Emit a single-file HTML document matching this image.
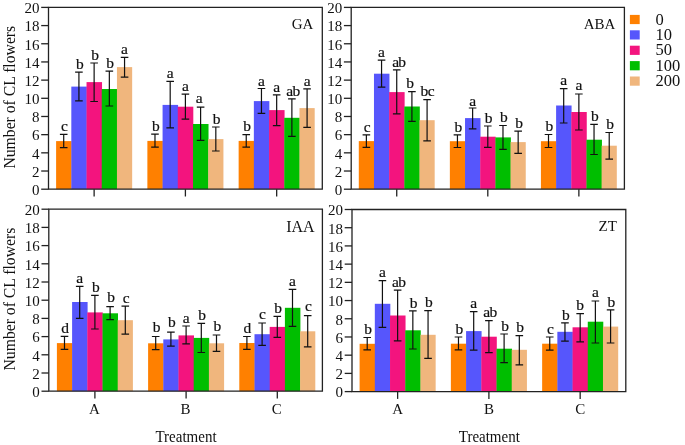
<!DOCTYPE html>
<html><head><meta charset="utf-8"><style>
html,body{margin:0;padding:0;background:#fff;}
body{width:685px;height:445px;overflow:hidden;}
svg{display:block;will-change:transform;font-family:"Liberation Serif", serif;fill:#111;}
svg text{fill:#111;}
svg text.l{stroke:#111;stroke-width:0.2px;}
svg text.t{letter-spacing:-0.7px;}
</style></head><body>
<svg width="685" height="445" viewBox="0 0 685 445">
<rect width="685" height="445" fill="#fff"/>
<rect x="56.11" y="141.1" width="15.51" height="48.1" fill="#FF8000"/>
<rect x="71.32" y="86.6" width="15.51" height="102.6" fill="#5656FC"/>
<rect x="86.53" y="82.1" width="15.51" height="107.1" fill="#F3147E"/>
<rect x="101.74" y="89" width="15.51" height="100.2" fill="#00BE00"/>
<rect x="116.95" y="67.1" width="15.21" height="122.1" fill="#F0B67D"/>
<rect x="147.37" y="140.9" width="15.51" height="48.3" fill="#FF8000"/>
<rect x="162.58" y="104.9" width="15.51" height="84.3" fill="#5656FC"/>
<rect x="177.79" y="106.7" width="15.51" height="82.5" fill="#F3147E"/>
<rect x="193.01" y="124" width="15.51" height="65.2" fill="#00BE00"/>
<rect x="208.22" y="139.1" width="15.21" height="50.1" fill="#F0B67D"/>
<rect x="238.64" y="140.9" width="15.51" height="48.3" fill="#FF8000"/>
<rect x="253.85" y="101.1" width="15.51" height="88.1" fill="#5656FC"/>
<rect x="269.06" y="110.1" width="15.51" height="79.1" fill="#F3147E"/>
<rect x="284.27" y="117.8" width="15.51" height="71.4" fill="#00BE00"/>
<rect x="299.48" y="108.1" width="15.21" height="81.1" fill="#F0B67D"/>
<path d="M63.71 134.4V147.6M59.91 134.4H67.51M59.91 147.6H67.51" stroke="#111" stroke-width="1.2" fill="none"/>
<text x="64.51" y="131.2" text-anchor="middle" class="l" font-size="15.5">c</text>
<path d="M78.92 72.2V100.8M75.12 72.2H82.72M75.12 100.8H82.72" stroke="#111" stroke-width="1.2" fill="none"/>
<text x="79.82" y="69" text-anchor="middle" class="l" font-size="15.5">b</text>
<path d="M94.13 63V101.5M90.33 63H97.93M90.33 101.5H97.93" stroke="#111" stroke-width="1.2" fill="none"/>
<text x="95.03" y="59.8" text-anchor="middle" class="l" font-size="15.5">b</text>
<path d="M109.34 71.1V106M105.54 71.1H113.14M105.54 106H113.14" stroke="#111" stroke-width="1.2" fill="none"/>
<text x="110.24" y="67.9" text-anchor="middle" class="l" font-size="15.5">b</text>
<path d="M124.56 57.3V77.1M120.76 57.3H128.36M120.76 77.1H128.36" stroke="#111" stroke-width="1.2" fill="none"/>
<text x="124.56" y="53.6" text-anchor="middle" class="l" font-size="15.5">a</text>
<path d="M154.98 134.2V147.2M151.18 134.2H158.78M151.18 147.2H158.78" stroke="#111" stroke-width="1.2" fill="none"/>
<text x="155.88" y="131" text-anchor="middle" class="l" font-size="15.5">b</text>
<path d="M170.19 81.3V127.9M166.39 81.3H173.99M166.39 127.9H173.99" stroke="#111" stroke-width="1.2" fill="none"/>
<text x="170.19" y="77.6" text-anchor="middle" class="l" font-size="15.5">a</text>
<path d="M185.4 94.2V119.1M181.6 94.2H189.2M181.6 119.1H189.2" stroke="#111" stroke-width="1.2" fill="none"/>
<text x="185.4" y="90.5" text-anchor="middle" class="l" font-size="15.5">a</text>
<path d="M200.61 107.2V140.4M196.81 107.2H204.41M196.81 140.4H204.41" stroke="#111" stroke-width="1.2" fill="none"/>
<text x="199.31" y="102.5" text-anchor="middle" class="l" font-size="15.5">a</text>
<path d="M215.82 127V151M212.02 127H219.62M212.02 151H219.62" stroke="#111" stroke-width="1.2" fill="none"/>
<text x="216.72" y="123.8" text-anchor="middle" class="l" font-size="15.5">b</text>
<path d="M246.24 134.6V147.2M242.44 134.6H250.04M242.44 147.2H250.04" stroke="#111" stroke-width="1.2" fill="none"/>
<text x="247.14" y="131.4" text-anchor="middle" class="l" font-size="15.5">b</text>
<path d="M261.46 88.5V113.3M257.66 88.5H265.26M257.66 113.3H265.26" stroke="#111" stroke-width="1.2" fill="none"/>
<text x="261.46" y="86" text-anchor="middle" class="l" font-size="15.5">a</text>
<path d="M276.67 94.8V125.6M272.87 94.8H280.47M272.87 125.6H280.47" stroke="#111" stroke-width="1.2" fill="none"/>
<text x="276.67" y="92.3" text-anchor="middle" class="l" font-size="15.5">a</text>
<path d="M291.88 98.9V136.4M288.08 98.9H295.68M288.08 136.4H295.68" stroke="#111" stroke-width="1.2" fill="none"/>
<text x="292.83" y="96.3" text-anchor="middle" class="l t" font-size="15.5">ab</text>
<path d="M307.09 88.8V127.4M303.29 88.8H310.89M303.29 127.4H310.89" stroke="#111" stroke-width="1.2" fill="none"/>
<text x="307.09" y="86.1" text-anchor="middle" class="l" font-size="15.5">a</text>
<path d="M48.5 7.4H322.3V189.2H48.5Z" stroke="#222" stroke-width="1.3" fill="none"/>
<path d="M41.2 189.2H48.5" stroke="#222" stroke-width="1.3"/>
<text x="39.5" y="195" text-anchor="end" font-size="15">0</text>
<path d="M41.2 171.02H48.5" stroke="#222" stroke-width="1.3"/>
<text x="39.5" y="176.82" text-anchor="end" font-size="15">2</text>
<path d="M41.2 152.84H48.5" stroke="#222" stroke-width="1.3"/>
<text x="39.5" y="158.64" text-anchor="end" font-size="15">4</text>
<path d="M41.2 134.66H48.5" stroke="#222" stroke-width="1.3"/>
<text x="39.5" y="140.46" text-anchor="end" font-size="15">6</text>
<path d="M41.2 116.48H48.5" stroke="#222" stroke-width="1.3"/>
<text x="39.5" y="122.28" text-anchor="end" font-size="15">8</text>
<path d="M41.2 98.3H48.5" stroke="#222" stroke-width="1.3"/>
<text x="39.5" y="104.1" text-anchor="end" font-size="15">10</text>
<path d="M41.2 80.12H48.5" stroke="#222" stroke-width="1.3"/>
<text x="39.5" y="85.92" text-anchor="end" font-size="15">12</text>
<path d="M41.2 61.94H48.5" stroke="#222" stroke-width="1.3"/>
<text x="39.5" y="67.74" text-anchor="end" font-size="15">14</text>
<path d="M41.2 43.76H48.5" stroke="#222" stroke-width="1.3"/>
<text x="39.5" y="49.56" text-anchor="end" font-size="15">16</text>
<path d="M41.2 25.58H48.5" stroke="#222" stroke-width="1.3"/>
<text x="39.5" y="31.38" text-anchor="end" font-size="15">18</text>
<path d="M41.2 7.4H48.5" stroke="#222" stroke-width="1.3"/>
<text x="39.5" y="13.2" text-anchor="end" font-size="15">20</text>
<path d="M94.13 189.2V196.5" stroke="#222" stroke-width="1.3"/>
<path d="M185.4 189.2V196.5" stroke="#222" stroke-width="1.3"/>
<path d="M276.67 189.2V196.5" stroke="#222" stroke-width="1.3"/>
<text transform="translate(313.3 29.3) scale(1 1.03)" text-anchor="end" font-size="15">GA</text>
<text transform="translate(14.6 97.2) rotate(-90)" text-anchor="middle" font-size="15.7">Number of CL flowers</text>
<rect x="358.79" y="141.1" width="15.48" height="48.1" fill="#FF8000"/>
<rect x="373.97" y="73.7" width="15.48" height="115.5" fill="#5656FC"/>
<rect x="389.14" y="92.1" width="15.48" height="97.1" fill="#F3147E"/>
<rect x="404.32" y="106.5" width="15.48" height="82.7" fill="#00BE00"/>
<rect x="419.5" y="120.2" width="15.18" height="69" fill="#F0B67D"/>
<rect x="449.86" y="141.2" width="15.48" height="48" fill="#FF8000"/>
<rect x="465.03" y="118.1" width="15.48" height="71.1" fill="#5656FC"/>
<rect x="480.21" y="136.7" width="15.48" height="52.5" fill="#F3147E"/>
<rect x="495.39" y="137.4" width="15.48" height="51.8" fill="#00BE00"/>
<rect x="510.57" y="142.1" width="15.18" height="47.1" fill="#F0B67D"/>
<rect x="540.92" y="141.2" width="15.48" height="48" fill="#FF8000"/>
<rect x="556.1" y="105.5" width="15.48" height="83.7" fill="#5656FC"/>
<rect x="571.28" y="112" width="15.48" height="77.2" fill="#F3147E"/>
<rect x="586.46" y="139.7" width="15.48" height="49.5" fill="#00BE00"/>
<rect x="601.63" y="145.7" width="15.18" height="43.5" fill="#F0B67D"/>
<path d="M366.38 134.8V147.4M362.58 134.8H370.18M362.58 147.4H370.18" stroke="#111" stroke-width="1.2" fill="none"/>
<text x="367.18" y="131.6" text-anchor="middle" class="l" font-size="15.5">c</text>
<path d="M381.56 60.2V87.2M377.76 60.2H385.36M377.76 87.2H385.36" stroke="#111" stroke-width="1.2" fill="none"/>
<text x="381.56" y="57" text-anchor="middle" class="l" font-size="15.5">a</text>
<path d="M396.73 69.9V113.8M392.93 69.9H400.53M392.93 113.8H400.53" stroke="#111" stroke-width="1.2" fill="none"/>
<text x="398.78" y="67.3" text-anchor="middle" class="l t" font-size="15.5">ab</text>
<path d="M411.91 91.7V121.3M408.11 91.7H415.71M408.11 121.3H415.71" stroke="#111" stroke-width="1.2" fill="none"/>
<text x="410.11" y="87.9" text-anchor="middle" class="l" font-size="15.5">b</text>
<path d="M427.09 99.6V140.9M423.29 99.6H430.89M423.29 140.9H430.89" stroke="#111" stroke-width="1.2" fill="none"/>
<text x="427.24" y="96.4" text-anchor="middle" class="l t" font-size="15.5">bc</text>
<path d="M457.44 134.9V147.5M453.64 134.9H461.24M453.64 147.5H461.24" stroke="#111" stroke-width="1.2" fill="none"/>
<text x="458.34" y="131.7" text-anchor="middle" class="l" font-size="15.5">b</text>
<path d="M472.62 108V128.9M468.82 108H476.42M468.82 128.9H476.42" stroke="#111" stroke-width="1.2" fill="none"/>
<text x="472.62" y="105.5" text-anchor="middle" class="l" font-size="15.5">a</text>
<path d="M487.8 126V147.3M484 126H491.6M484 147.3H491.6" stroke="#111" stroke-width="1.2" fill="none"/>
<text x="488.7" y="122.8" text-anchor="middle" class="l" font-size="15.5">b</text>
<path d="M502.98 125.5V149.3M499.18 125.5H506.78M499.18 149.3H506.78" stroke="#111" stroke-width="1.2" fill="none"/>
<text x="503.88" y="122.3" text-anchor="middle" class="l" font-size="15.5">b</text>
<path d="M518.16 131.1V153.4M514.36 131.1H521.96M514.36 153.4H521.96" stroke="#111" stroke-width="1.2" fill="none"/>
<text x="519.06" y="127.9" text-anchor="middle" class="l" font-size="15.5">b</text>
<path d="M548.51 134.5V147.5M544.71 134.5H552.31M544.71 147.5H552.31" stroke="#111" stroke-width="1.2" fill="none"/>
<text x="549.41" y="131.3" text-anchor="middle" class="l" font-size="15.5">b</text>
<path d="M563.69 88.7V123M559.89 88.7H567.49M559.89 123H567.49" stroke="#111" stroke-width="1.2" fill="none"/>
<text x="563.69" y="85" text-anchor="middle" class="l" font-size="15.5">a</text>
<path d="M578.87 94V130M575.07 94H582.67M575.07 130H582.67" stroke="#111" stroke-width="1.2" fill="none"/>
<text x="578.87" y="90.3" text-anchor="middle" class="l" font-size="15.5">a</text>
<path d="M594.04 124.4V154.5M590.24 124.4H597.84M590.24 154.5H597.84" stroke="#111" stroke-width="1.2" fill="none"/>
<text x="594.94" y="121.2" text-anchor="middle" class="l" font-size="15.5">b</text>
<path d="M609.22 132.5V159.2M605.42 132.5H613.02M605.42 159.2H613.02" stroke="#111" stroke-width="1.2" fill="none"/>
<text x="610.12" y="129.3" text-anchor="middle" class="l" font-size="15.5">b</text>
<path d="M351.2 7.4H624.4V189.2H351.2Z" stroke="#222" stroke-width="1.3" fill="none"/>
<path d="M343.9 189.2H351.2" stroke="#222" stroke-width="1.3"/>
<text x="342.2" y="195" text-anchor="end" font-size="15">0</text>
<path d="M343.9 171.02H351.2" stroke="#222" stroke-width="1.3"/>
<text x="342.2" y="176.82" text-anchor="end" font-size="15">2</text>
<path d="M343.9 152.84H351.2" stroke="#222" stroke-width="1.3"/>
<text x="342.2" y="158.64" text-anchor="end" font-size="15">4</text>
<path d="M343.9 134.66H351.2" stroke="#222" stroke-width="1.3"/>
<text x="342.2" y="140.46" text-anchor="end" font-size="15">6</text>
<path d="M343.9 116.48H351.2" stroke="#222" stroke-width="1.3"/>
<text x="342.2" y="122.28" text-anchor="end" font-size="15">8</text>
<path d="M343.9 98.3H351.2" stroke="#222" stroke-width="1.3"/>
<text x="342.2" y="104.1" text-anchor="end" font-size="15">10</text>
<path d="M343.9 80.12H351.2" stroke="#222" stroke-width="1.3"/>
<text x="342.2" y="85.92" text-anchor="end" font-size="15">12</text>
<path d="M343.9 61.94H351.2" stroke="#222" stroke-width="1.3"/>
<text x="342.2" y="67.74" text-anchor="end" font-size="15">14</text>
<path d="M343.9 43.76H351.2" stroke="#222" stroke-width="1.3"/>
<text x="342.2" y="49.56" text-anchor="end" font-size="15">16</text>
<path d="M343.9 25.58H351.2" stroke="#222" stroke-width="1.3"/>
<text x="342.2" y="31.38" text-anchor="end" font-size="15">18</text>
<path d="M343.9 7.4H351.2" stroke="#222" stroke-width="1.3"/>
<text x="342.2" y="13.2" text-anchor="end" font-size="15">20</text>
<path d="M396.73 189.2V196.5" stroke="#222" stroke-width="1.3"/>
<path d="M487.8 189.2V196.5" stroke="#222" stroke-width="1.3"/>
<path d="M578.87 189.2V196.5" stroke="#222" stroke-width="1.3"/>
<text transform="translate(615.4 29.3) scale(1 1.03)" text-anchor="end" font-size="15">ABA</text>
<rect x="56.9" y="343.1" width="15.5" height="48.1" fill="#FF8000"/>
<rect x="72.1" y="302" width="15.5" height="89.2" fill="#5656FC"/>
<rect x="87.3" y="312.4" width="15.5" height="78.8" fill="#F3147E"/>
<rect x="102.5" y="313.3" width="15.5" height="77.9" fill="#00BE00"/>
<rect x="117.7" y="320.2" width="15.2" height="71" fill="#F0B67D"/>
<rect x="148.1" y="343.3" width="15.5" height="47.9" fill="#FF8000"/>
<rect x="163.3" y="339.4" width="15.5" height="51.8" fill="#5656FC"/>
<rect x="178.5" y="335.4" width="15.5" height="55.8" fill="#F3147E"/>
<rect x="193.7" y="337.9" width="15.5" height="53.3" fill="#00BE00"/>
<rect x="208.9" y="343.3" width="15.2" height="47.9" fill="#F0B67D"/>
<rect x="239.3" y="343" width="15.5" height="48.2" fill="#FF8000"/>
<rect x="254.5" y="334.2" width="15.5" height="57" fill="#5656FC"/>
<rect x="269.7" y="326.9" width="15.5" height="64.3" fill="#F3147E"/>
<rect x="284.9" y="307.8" width="15.5" height="83.4" fill="#00BE00"/>
<rect x="300.1" y="331.3" width="15.2" height="59.9" fill="#F0B67D"/>
<path d="M64.5 336.4V349.4M60.7 336.4H68.3M60.7 349.4H68.3" stroke="#111" stroke-width="1.2" fill="none"/>
<text x="65" y="333.2" text-anchor="middle" class="l" font-size="15.5">d</text>
<path d="M79.7 286.3V318.4M75.9 286.3H83.5M75.9 318.4H83.5" stroke="#111" stroke-width="1.2" fill="none"/>
<text x="79.7" y="282.6" text-anchor="middle" class="l" font-size="15.5">a</text>
<path d="M94.9 295.3V329M91.1 295.3H98.7M91.1 329H98.7" stroke="#111" stroke-width="1.2" fill="none"/>
<text x="95.8" y="292.1" text-anchor="middle" class="l" font-size="15.5">b</text>
<path d="M110.1 306.7V319.6M106.3 306.7H113.9M106.3 319.6H113.9" stroke="#111" stroke-width="1.2" fill="none"/>
<text x="111" y="301.7" text-anchor="middle" class="l" font-size="15.5">b</text>
<path d="M125.3 306.1V334.2M121.5 306.1H129.1M121.5 334.2H129.1" stroke="#111" stroke-width="1.2" fill="none"/>
<text x="126.1" y="302.9" text-anchor="middle" class="l" font-size="15.5">c</text>
<path d="M155.7 336.5V349.6M151.9 336.5H159.5M151.9 349.6H159.5" stroke="#111" stroke-width="1.2" fill="none"/>
<text x="156.6" y="332" text-anchor="middle" class="l" font-size="15.5">b</text>
<path d="M170.9 332.2V346.2M167.1 332.2H174.7M167.1 346.2H174.7" stroke="#111" stroke-width="1.2" fill="none"/>
<text x="171.8" y="327.4" text-anchor="middle" class="l" font-size="15.5">b</text>
<path d="M186.1 326V343.9M182.3 326H189.9M182.3 343.9H189.9" stroke="#111" stroke-width="1.2" fill="none"/>
<text x="186.1" y="322.7" text-anchor="middle" class="l" font-size="15.5">a</text>
<path d="M201.3 323.3V352.5M197.5 323.3H205.1M197.5 352.5H205.1" stroke="#111" stroke-width="1.2" fill="none"/>
<text x="202.2" y="319.7" text-anchor="middle" class="l" font-size="15.5">b</text>
<path d="M216.5 335V351.3M212.7 335H220.3M212.7 351.3H220.3" stroke="#111" stroke-width="1.2" fill="none"/>
<text x="217.4" y="331.2" text-anchor="middle" class="l" font-size="15.5">b</text>
<path d="M246.9 336.5V349.3M243.1 336.5H250.7M243.1 349.3H250.7" stroke="#111" stroke-width="1.2" fill="none"/>
<text x="247.4" y="333.3" text-anchor="middle" class="l" font-size="15.5">d</text>
<path d="M262.1 323V345.4M258.3 323H265.9M258.3 345.4H265.9" stroke="#111" stroke-width="1.2" fill="none"/>
<text x="262.5" y="318.5" text-anchor="middle" class="l" font-size="15.5">c</text>
<path d="M277.3 316.3V337.3M273.5 316.3H281.1M273.5 337.3H281.1" stroke="#111" stroke-width="1.2" fill="none"/>
<text x="278.2" y="313.1" text-anchor="middle" class="l" font-size="15.5">b</text>
<path d="M292.5 289.3V326.3M288.7 289.3H296.3M288.7 326.3H296.3" stroke="#111" stroke-width="1.2" fill="none"/>
<text x="292.5" y="285.6" text-anchor="middle" class="l" font-size="15.5">a</text>
<path d="M307.7 315.6V346.8M303.9 315.6H311.5M303.9 346.8H311.5" stroke="#111" stroke-width="1.2" fill="none"/>
<text x="308.5" y="311.4" text-anchor="middle" class="l" font-size="15.5">c</text>
<path d="M48.8 209.2H322.4V391.2H48.8Z" stroke="#222" stroke-width="1.3" fill="none"/>
<path d="M41.5 391.2H48.8" stroke="#222" stroke-width="1.3"/>
<text x="39.8" y="397" text-anchor="end" font-size="15">0</text>
<path d="M41.5 373H48.8" stroke="#222" stroke-width="1.3"/>
<text x="39.8" y="378.8" text-anchor="end" font-size="15">2</text>
<path d="M41.5 354.8H48.8" stroke="#222" stroke-width="1.3"/>
<text x="39.8" y="360.6" text-anchor="end" font-size="15">4</text>
<path d="M41.5 336.6H48.8" stroke="#222" stroke-width="1.3"/>
<text x="39.8" y="342.4" text-anchor="end" font-size="15">6</text>
<path d="M41.5 318.4H48.8" stroke="#222" stroke-width="1.3"/>
<text x="39.8" y="324.2" text-anchor="end" font-size="15">8</text>
<path d="M41.5 300.2H48.8" stroke="#222" stroke-width="1.3"/>
<text x="39.8" y="306" text-anchor="end" font-size="15">10</text>
<path d="M41.5 282H48.8" stroke="#222" stroke-width="1.3"/>
<text x="39.8" y="287.8" text-anchor="end" font-size="15">12</text>
<path d="M41.5 263.8H48.8" stroke="#222" stroke-width="1.3"/>
<text x="39.8" y="269.6" text-anchor="end" font-size="15">14</text>
<path d="M41.5 245.6H48.8" stroke="#222" stroke-width="1.3"/>
<text x="39.8" y="251.4" text-anchor="end" font-size="15">16</text>
<path d="M41.5 227.4H48.8" stroke="#222" stroke-width="1.3"/>
<text x="39.8" y="233.2" text-anchor="end" font-size="15">18</text>
<path d="M41.5 209.2H48.8" stroke="#222" stroke-width="1.3"/>
<text x="39.8" y="215" text-anchor="end" font-size="15">20</text>
<path d="M94.9 391.2V398.5" stroke="#222" stroke-width="1.3"/>
<path d="M186.1 391.2V398.5" stroke="#222" stroke-width="1.3"/>
<path d="M277.3 391.2V398.5" stroke="#222" stroke-width="1.3"/>
<text transform="translate(314.6 232) scale(1 1.03)" text-anchor="end" font-size="16">IAA</text>
<text transform="translate(14.6 299.1) rotate(-90)" text-anchor="middle" font-size="15.7">Number of CL flowers</text>
<rect x="359.61" y="343.8" width="15.51" height="47.8" fill="#FF8000"/>
<rect x="374.82" y="303.8" width="15.51" height="87.8" fill="#5656FC"/>
<rect x="390.03" y="315.5" width="15.51" height="76.1" fill="#F3147E"/>
<rect x="405.24" y="330.3" width="15.51" height="61.3" fill="#00BE00"/>
<rect x="420.45" y="334.8" width="15.21" height="56.8" fill="#F0B67D"/>
<rect x="450.87" y="343.7" width="15.51" height="47.9" fill="#FF8000"/>
<rect x="466.08" y="331.1" width="15.51" height="60.5" fill="#5656FC"/>
<rect x="481.29" y="336.7" width="15.51" height="54.9" fill="#F3147E"/>
<rect x="496.51" y="348.7" width="15.51" height="42.9" fill="#00BE00"/>
<rect x="511.72" y="349.8" width="15.21" height="41.8" fill="#F0B67D"/>
<rect x="542.14" y="343.7" width="15.51" height="47.9" fill="#FF8000"/>
<rect x="557.35" y="331.8" width="15.51" height="59.8" fill="#5656FC"/>
<rect x="572.56" y="327.3" width="15.51" height="64.3" fill="#F3147E"/>
<rect x="587.77" y="321.7" width="15.51" height="69.9" fill="#00BE00"/>
<rect x="602.98" y="326.6" width="15.21" height="65" fill="#F0B67D"/>
<path d="M367.21 337.5V349.9M363.41 337.5H371.01M363.41 349.9H371.01" stroke="#111" stroke-width="1.2" fill="none"/>
<text x="368.11" y="334.3" text-anchor="middle" class="l" font-size="15.5">b</text>
<path d="M382.42 280.6V327.4M378.62 280.6H386.22M378.62 327.4H386.22" stroke="#111" stroke-width="1.2" fill="none"/>
<text x="382.42" y="276.9" text-anchor="middle" class="l" font-size="15.5">a</text>
<path d="M397.63 290.2V340.9M393.83 290.2H401.43M393.83 340.9H401.43" stroke="#111" stroke-width="1.2" fill="none"/>
<text x="398.58" y="287" text-anchor="middle" class="l t" font-size="15.5">ab</text>
<path d="M412.84 310.8V349M409.04 310.8H416.64M409.04 349H416.64" stroke="#111" stroke-width="1.2" fill="none"/>
<text x="413.74" y="307.6" text-anchor="middle" class="l" font-size="15.5">b</text>
<path d="M428.06 310.6V358.4M424.26 310.6H431.86M424.26 358.4H431.86" stroke="#111" stroke-width="1.2" fill="none"/>
<text x="428.96" y="307.4" text-anchor="middle" class="l" font-size="15.5">b</text>
<path d="M458.48 337V349.8M454.68 337H462.28M454.68 349.8H462.28" stroke="#111" stroke-width="1.2" fill="none"/>
<text x="459.38" y="333.8" text-anchor="middle" class="l" font-size="15.5">b</text>
<path d="M473.69 311.6V350.2M469.89 311.6H477.49M469.89 350.2H477.49" stroke="#111" stroke-width="1.2" fill="none"/>
<text x="473.69" y="307.9" text-anchor="middle" class="l" font-size="15.5">a</text>
<path d="M488.9 320.6V352.7M485.1 320.6H492.7M485.1 352.7H492.7" stroke="#111" stroke-width="1.2" fill="none"/>
<text x="489.85" y="317.4" text-anchor="middle" class="l t" font-size="15.5">ab</text>
<path d="M504.11 334V362.6M500.31 334H507.91M500.31 362.6H507.91" stroke="#111" stroke-width="1.2" fill="none"/>
<text x="505.01" y="330.8" text-anchor="middle" class="l" font-size="15.5">b</text>
<path d="M519.32 335.6V364.8M515.52 335.6H523.12M515.52 364.8H523.12" stroke="#111" stroke-width="1.2" fill="none"/>
<text x="520.22" y="332.4" text-anchor="middle" class="l" font-size="15.5">b</text>
<path d="M549.74 337V350.2M545.94 337H553.54M545.94 350.2H553.54" stroke="#111" stroke-width="1.2" fill="none"/>
<text x="550.54" y="333.8" text-anchor="middle" class="l" font-size="15.5">c</text>
<path d="M564.96 322.8V341.2M561.16 322.8H568.76M561.16 341.2H568.76" stroke="#111" stroke-width="1.2" fill="none"/>
<text x="565.86" y="319.6" text-anchor="middle" class="l" font-size="15.5">b</text>
<path d="M580.17 313.6V341.9M576.37 313.6H583.97M576.37 341.9H583.97" stroke="#111" stroke-width="1.2" fill="none"/>
<text x="580.07" y="310.4" text-anchor="middle" class="l" font-size="15.5">b</text>
<path d="M595.38 301V343M591.58 301H599.18M591.58 343H599.18" stroke="#111" stroke-width="1.2" fill="none"/>
<text x="595.38" y="297.3" text-anchor="middle" class="l" font-size="15.5">a</text>
<path d="M610.59 309.8V343M606.79 309.8H614.39M606.79 343H614.39" stroke="#111" stroke-width="1.2" fill="none"/>
<text x="611.49" y="306.6" text-anchor="middle" class="l" font-size="15.5">b</text>
<path d="M352 209.5H625.8V391.6H352Z" stroke="#222" stroke-width="1.3" fill="none"/>
<path d="M344.7 391.6H352" stroke="#222" stroke-width="1.3"/>
<text x="343" y="397.4" text-anchor="end" font-size="15">0</text>
<path d="M344.7 373.39H352" stroke="#222" stroke-width="1.3"/>
<text x="343" y="379.19" text-anchor="end" font-size="15">2</text>
<path d="M344.7 355.18H352" stroke="#222" stroke-width="1.3"/>
<text x="343" y="360.98" text-anchor="end" font-size="15">4</text>
<path d="M344.7 336.97H352" stroke="#222" stroke-width="1.3"/>
<text x="343" y="342.77" text-anchor="end" font-size="15">6</text>
<path d="M344.7 318.76H352" stroke="#222" stroke-width="1.3"/>
<text x="343" y="324.56" text-anchor="end" font-size="15">8</text>
<path d="M344.7 300.55H352" stroke="#222" stroke-width="1.3"/>
<text x="343" y="306.35" text-anchor="end" font-size="15">10</text>
<path d="M344.7 282.34H352" stroke="#222" stroke-width="1.3"/>
<text x="343" y="288.14" text-anchor="end" font-size="15">12</text>
<path d="M344.7 264.13H352" stroke="#222" stroke-width="1.3"/>
<text x="343" y="269.93" text-anchor="end" font-size="15">14</text>
<path d="M344.7 245.92H352" stroke="#222" stroke-width="1.3"/>
<text x="343" y="251.72" text-anchor="end" font-size="15">16</text>
<path d="M344.7 227.71H352" stroke="#222" stroke-width="1.3"/>
<text x="343" y="233.51" text-anchor="end" font-size="15">18</text>
<path d="M344.7 209.5H352" stroke="#222" stroke-width="1.3"/>
<text x="343" y="215.3" text-anchor="end" font-size="15">20</text>
<path d="M397.63 391.6V398.9" stroke="#222" stroke-width="1.3"/>
<path d="M488.9 391.6V398.9" stroke="#222" stroke-width="1.3"/>
<path d="M580.17 391.6V398.9" stroke="#222" stroke-width="1.3"/>
<text transform="translate(616.8 231.4) scale(1 1.03)" text-anchor="end" font-size="15">ZT</text>
<text x="94.4" y="414" text-anchor="middle" font-size="15">A</text>
<text x="185.6" y="414" text-anchor="middle" font-size="15">B</text>
<text x="276.8" y="414" text-anchor="middle" font-size="15">C</text>
<text transform="translate(186 442.1) scale(1 1.08)" text-anchor="middle" font-size="15">Treatment</text>
<text x="397.63" y="414" text-anchor="middle" font-size="15">A</text>
<text x="488.9" y="414" text-anchor="middle" font-size="15">B</text>
<text x="580.17" y="414" text-anchor="middle" font-size="15">C</text>
<text transform="translate(489.3 442.1) scale(1 1.08)" text-anchor="middle" font-size="15">Treatment</text>
<rect x="629.9" y="14.9" width="9.8" height="9.2" fill="#FF8000"/>
<text x="655.4" y="24.5" font-size="16.5">0</text>
<rect x="629.9" y="30.3" width="9.8" height="9.2" fill="#5656FC"/>
<text x="655.4" y="39.9" font-size="16.5">10</text>
<rect x="629.9" y="45.7" width="9.8" height="9.2" fill="#F3147E"/>
<text x="655.4" y="55.3" font-size="16.5">50</text>
<rect x="629.9" y="61.1" width="9.8" height="9.2" fill="#00BE00"/>
<text x="655.4" y="70.7" font-size="16.5">100</text>
<rect x="629.9" y="76.5" width="9.8" height="9.2" fill="#F0B67D"/>
<text x="655.4" y="86.1" font-size="16.5">200</text>
</svg>
</body></html>
